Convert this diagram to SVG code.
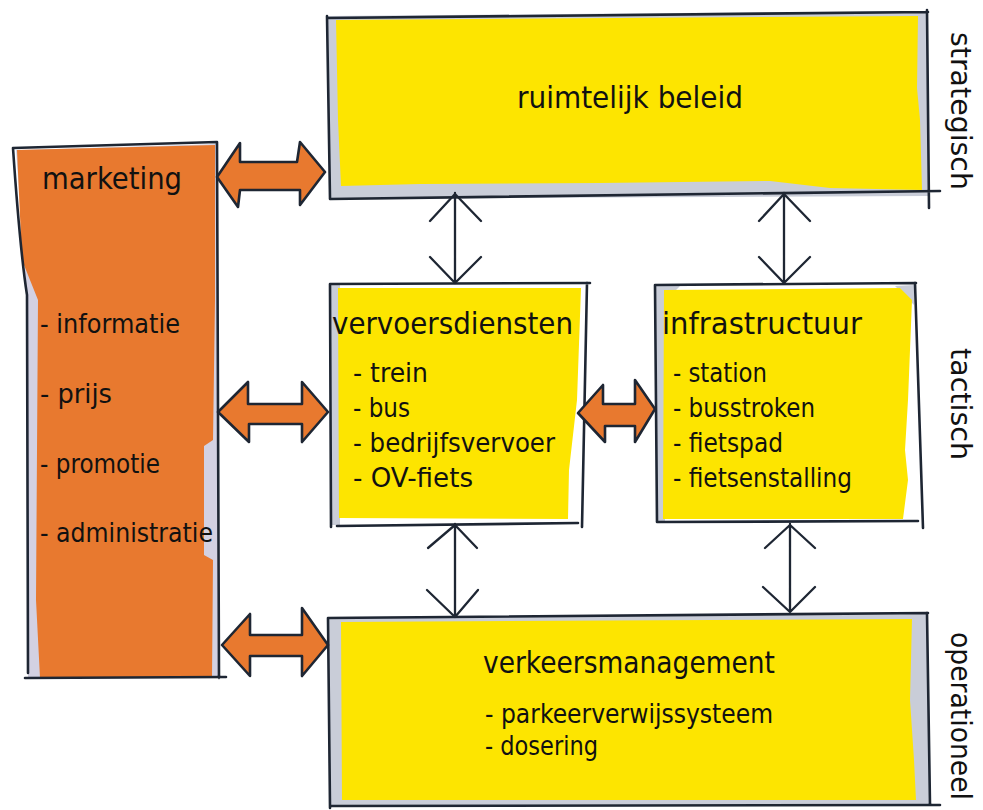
<svg xmlns="http://www.w3.org/2000/svg" width="983" height="810" viewBox="0 0 983 810">
<style>
.outline{fill:none;stroke:#1E2633;stroke-width:2.6;stroke-linecap:round;stroke-linejoin:round}
.yellow{fill:#FDE500}
.gray{fill:#C9CDD8}
.lav{fill:#D3D1E2}
.orange{fill:#E8792F}
.oarrow{fill:#E8792F;stroke:#1E2633;stroke-width:2.6;stroke-linejoin:round}
.conn{fill:none;stroke:#1E2633;stroke-width:2.3;stroke-linecap:round;stroke-linejoin:round}
text{font-family:"DejaVu Sans","Liberation Sans",sans-serif;fill:#111111}
.title{font-size:31px}
.item{font-size:26px}
.side{font-size:28px}
</style>
<rect width="983" height="810" fill="#FFFFFF"/>

<g id="node-ruimtelijk-beleid">
  <path class="gray" d="M328,16 L927,11 L928,196 L330,199 Z"/>
  <path class="yellow" d="M336,20 L918,16 L917,88 L920,120 L922,190 L830,188 L770,181 L600,183 L420,184 L341,186 L338,120 Z"/>
  <path class="outline" d="M327,18 L928,12 M327,16 L330,199 M330,199 L940,191 M927,10 L929,208"/>
  <text class="title" x="517" y="108" textLength="226" lengthAdjust="spacingAndGlyphs">ruimtelijk beleid</text>
</g>

<g id="node-marketing">
  <path class="lav" d="M16,150 L216,144 L218,678 L28,678 L27,300 Z"/>
  <path class="orange" d="M17,150 L215,145 L215,300 L213,440 L204,446 L204,555 L213,560 L212,678 L40,678 L36,600 L38,300 L22,260 Z"/>
  <path class="outline" d="M13,148 L217,142 M13,148 Q20,250 27,295 L28,673 M217,142 L219,678 M25,678 L226,677"/>
  <text class="title" x="42" y="189" textLength="140" lengthAdjust="spacingAndGlyphs">marketing</text>
  <text class="item" x="40" y="333" textLength="140" lengthAdjust="spacingAndGlyphs">- informatie</text>
  <text class="item" x="40" y="403" textLength="72" lengthAdjust="spacingAndGlyphs">- prijs</text>
  <text class="item" x="40" y="473" textLength="120" lengthAdjust="spacingAndGlyphs">- promotie</text>
  <text class="item" x="40" y="542" textLength="173" lengthAdjust="spacingAndGlyphs">- administratie</text>
</g>

<g id="node-vervoersdiensten">
  <path class="gray" d="M331,285 L340,285 L340,525 L332,525 Z"/>
  <path class="yellow" d="M338,288 L581,288 L577,400 L569,470 L568,519 L339,518 Z"/>
  <path class="outline" d="M330,284 L590,283 M330,284 L331,527 M587,283 L582,527 M337,526 L578,523"/>
  <text class="title" x="332" y="334" textLength="241" lengthAdjust="spacingAndGlyphs">vervoersdiensten</text>
  <text class="item" x="353" y="382" textLength="75" lengthAdjust="spacingAndGlyphs">- trein</text>
  <text class="item" x="353" y="417" textLength="57" lengthAdjust="spacingAndGlyphs">- bus</text>
  <text class="item" x="353" y="452" textLength="202" lengthAdjust="spacingAndGlyphs">- bedrijfsvervoer</text>
  <text class="item" x="353" y="487" textLength="120" lengthAdjust="spacingAndGlyphs">- OV-fiets</text>
</g>

<g id="node-infrastructuur">
  <path class="gray" d="M656,286 L680,286 L666,300 L665,521 L657,521 Z"/>
  <path class="gray" d="M895,286 L914,285 L914,305 Z"/>
  <path class="yellow" d="M664,290 L900,288 L912,300 L908,400 L905,450 L908,480 L903,519 L663,519 Z"/>
  <path class="outline" d="M655,285 L916,283 M655,285 L657,522 M915,283 L923,528 M658,522 L918,521"/>
  <text class="title" x="662" y="334" textLength="200" lengthAdjust="spacingAndGlyphs">infrastructuur</text>
  <text class="item" x="673" y="382" textLength="94" lengthAdjust="spacingAndGlyphs">- station</text>
  <text class="item" x="673" y="417" textLength="142" lengthAdjust="spacingAndGlyphs">- busstroken</text>
  <text class="item" x="673" y="452" textLength="110" lengthAdjust="spacingAndGlyphs">- fietspad</text>
  <text class="item" x="673" y="487" textLength="179" lengthAdjust="spacingAndGlyphs">- fietsenstalling</text>
</g>

<g id="node-verkeersmanagement">
  <path class="gray" d="M329,617 L927,613 L930,805 L330,806 Z"/>
  <path class="yellow" d="M341,622 L912,619 L910,700 L914,760 L916,800 L342,800 Z"/>
  <path class="outline" d="M328,618 L928,613 M328,618 L330,808 M927,613 L930,805 M330,806 L940,805"/>
  <text class="title" x="483" y="673" textLength="292" lengthAdjust="spacingAndGlyphs">verkeersmanagement</text>
  <text class="item" x="485" y="723" textLength="288" lengthAdjust="spacingAndGlyphs">- parkeerverwijssysteem</text>
  <text class="item" x="485" y="755" textLength="113" lengthAdjust="spacingAndGlyphs">- dosering</text>
</g>

<g id="level-labels">
  <text class="side" transform="translate(951,32) rotate(90)" x="0" y="0" textLength="158" lengthAdjust="spacingAndGlyphs">strategisch</text>
  <text class="side" transform="translate(951,348) rotate(90)" x="0" y="0" textLength="112" lengthAdjust="spacingAndGlyphs">tactisch</text>
  <text class="side" transform="translate(951,632) rotate(90)" x="0" y="0" textLength="168" lengthAdjust="spacingAndGlyphs">operationeel</text>
</g>

<g id="connectors">
  <path class="conn" d="M455,193 L455,283 M430,221 L455,194 L481,221 M430,257 L455,283 L481,257"/>
  <path class="conn" d="M784,193 L784,283 M759,221 L784,194 L810,221 M759,257 L784,283 L810,257"/>
  <path class="conn" d="M455,524 L455,617 M428,548 L455,525 L477,548 M427,590 L455,617 L478,590"/>
  <path class="conn" d="M790,524 L790,612 M765,548 L790,525 L815,548 M763,587 L790,612 L815,587"/>
  <path class="oarrow" d="M217,177 L240,143 L240,162 L297,162 L300,142 L325,172 L300,205 L300,190 L240,190 L238,207 Z"/>
  <path class="oarrow" d="M218,412 L248,382 L248,404 L302,404 L302,382 L328,412 L302,442 L302,424 L249,424 L249,442 Z"/>
  <path class="oarrow" d="M222,645 L250,614 L250,635 L302,635 L302,608 L328,645 L302,676 L302,656 L250,656 L250,676 Z"/>
  <path class="oarrow" d="M578,413 L603,385 L603,404 L635,404 L635,380 L655,409 L635,442 L635,426 L605,426 L605,442 Z"/>
</g>
</svg>
